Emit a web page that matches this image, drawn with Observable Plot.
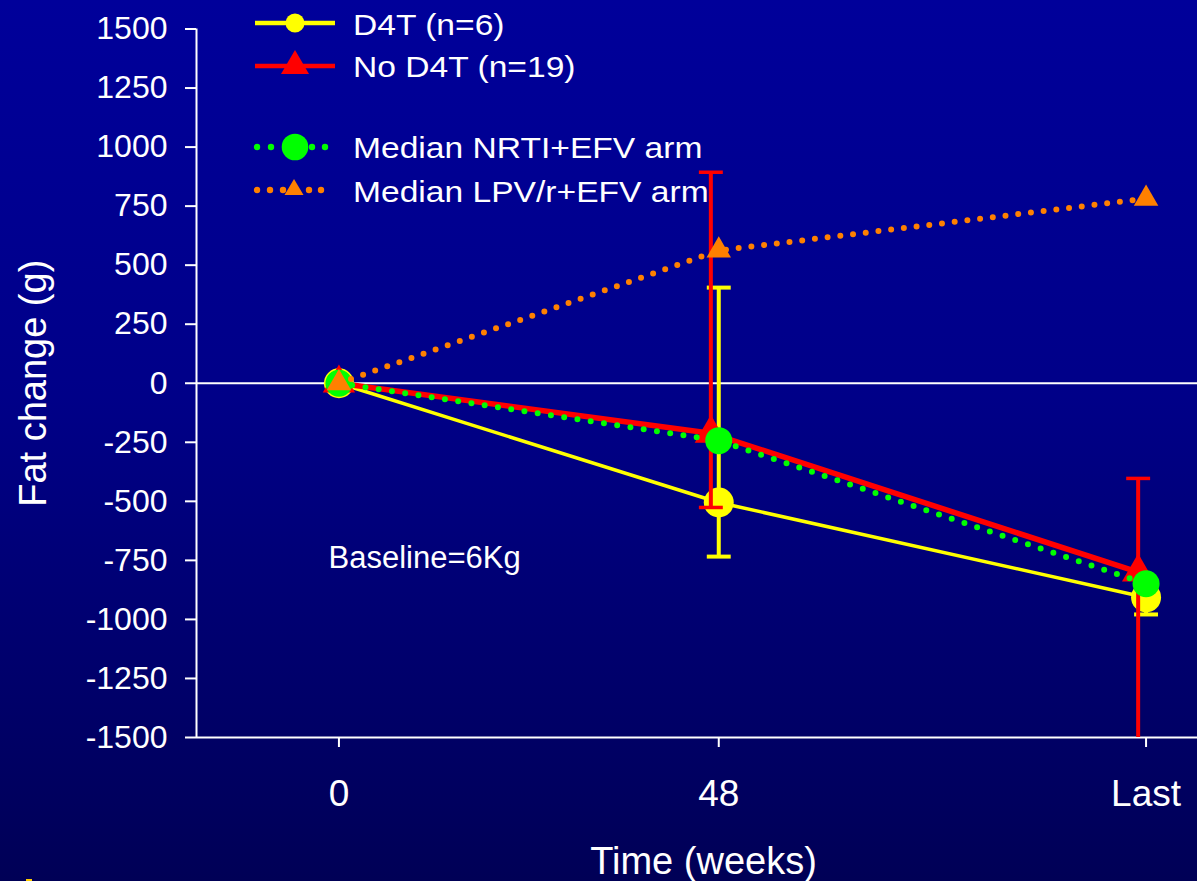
<!DOCTYPE html>
<html>
<head>
<meta charset="utf-8">
<script src="https://cdn.jsdelivr.net/npm/d3@7"></script>
<script src="https://cdn.jsdelivr.net/npm/@observablehq/plot@0.6"></script>
<style>
  html, body { margin: 0; padding: 0; }
  body { width: 1197px; height: 881px; overflow: hidden;
         background: linear-gradient(to bottom, #00009a 0%, #000088 45%, #000056 100%); }
  #wrap { position: relative; width: 1197px; height: 881px; font-family: "Liberation Sans", Arial, sans-serif; }
  #wrap > svg { position: absolute; left: 0; top: 0; }
</style>
</head>
<body>
<div id="wrap"></div>
<script>
// ---- data ----
const xDomain = [-18, 108.5];
const yDomain = [-1500, 1500];
const yTicks = [-1500, -1250, -1000, -750, -500, -250, 0, 250, 500, 750, 1000, 1250, 1500];
const timeValues = [0, 48, 102];
const timeLabels = ["0", "48", "Last"];

const d4tX = [0, 48, 102];
const d4tY = [0, -505, -907];
const d4tLow = [null, -734, -979];
const d4tHigh = [null, 405, -840];

const noD4tX = [0, 47, 101];
const noD4tY = [0, -212, -800];
const noD4tLow = [null, -526, -1700];
const noD4tHigh = [null, 893, -403];

const nrtiX = [0, 48, 102];
const nrtiY = [0, -243, -849];

const lpvX = [0, 48, 102];
const lpvY = [0, 562, 782];

const seriesNames = ["D4T (n=6)", "No D4T (n=19)", "Median NRTI+EFV arm", "Median LPV/r+EFV arm"];

// ---- build tables ----
const rows = (xs, ys) => xs.map((x, i) => ({x, y: ys[i]}));
const errRows = (xs, lo, hi) => xs.map((x, i) => ({x, lo: lo[i], hi: hi[i]})).filter(d => d.lo != null);
const capRows = (xs, lo, hi) => errRows(xs, lo, hi).flatMap(d => [{x: d.x, y: d.lo}, {x: d.x, y: d.hi}]);

const d4t = rows(d4tX, d4tY), noD4t = rows(noD4tX, noD4tY), nrti = rows(nrtiX, nrtiY), lpv = rows(lpvX, lpvY);

const capSymbol = { draw(ctx, size) { const w = Math.sqrt(size); ctx.moveTo(-w / 2, 0); ctx.lineTo(w / 2, 0); } };

const YEL = "#ffff00", RED = "#ff0000", GRN = "#00ff00", ORG = "#ff8000";

const plot = Plot.plot({
  width: 1197, height: 881,
  marginLeft: 196, marginRight: 0, marginTop: 28.5, marginBottom: 144,
  x: {domain: xDomain},
  y: {domain: yDomain},
  style: {background: "transparent", color: "white", fontFamily: "'Liberation Sans', Arial, sans-serif", overflow: "visible"},
  marks: [
    Plot.ruleY([0], {stroke: "white", strokeWidth: 2}),
    Plot.ruleX([xDomain[0]], {stroke: "white", strokeWidth: 2}),
    Plot.ruleY([yDomain[0]], {stroke: "white", strokeWidth: 2}),
    Plot.axisY({ticks: yTicks, tickFormat: d => String(d), tickSize: 11, tickPadding: 18, fontSize: 32, stroke: "white", strokeWidth: 2, label: null}),
    Plot.axisX({ticks: timeValues, tickFormat: d => timeLabels[timeValues.indexOf(d)], tickSize: 10, tickPadding: 32, fontSize: 37, stroke: "white", strokeWidth: 2, label: null}),

    // D4T
    Plot.line(d4t, {x: "x", y: "y", stroke: YEL, strokeWidth: 3.5}),
    Plot.ruleX(errRows(d4tX, d4tLow, d4tHigh), {x: "x", y1: "lo", y2: "hi", stroke: YEL, strokeWidth: 4, clip: true}),
    Plot.dot(capRows(d4tX, d4tLow, d4tHigh), {x: "x", y: "y", symbol: capSymbol, r: 13.5, fill: "none", stroke: YEL, strokeWidth: 4, clip: true}),
    Plot.dot(d4t, {x: "x", y: "y", r: 15, fill: YEL, stroke: "none"}),

    // No D4T
    Plot.line(noD4t, {x: "x", y: "y", stroke: RED, strokeWidth: 5.5}),
    Plot.ruleX(errRows(noD4tX, noD4tLow, noD4tHigh), {x: "x", y1: "lo", y2: "hi", stroke: RED, strokeWidth: 4, clip: true}),
    Plot.dot(capRows(noD4tX, noD4tLow, noD4tHigh), {x: "x", y: "y", symbol: capSymbol, r: 13.5, fill: "none", stroke: RED, strokeWidth: 3.5, clip: true}),
    Plot.dot(noD4t, {x: "x", y: "y", symbol: "triangle", r: 12, fill: RED, stroke: "none"}),

    // Median NRTI+EFV
    Plot.line(nrti, {x: "x", y: "y", stroke: GRN, strokeWidth: 6, strokeDasharray: "0 13.4", strokeLinecap: "round"}),
    Plot.dot(nrti, {x: "x", y: "y", r: 13.5, fill: GRN, stroke: "none"}),

    // Median LPV/r+EFV
    Plot.line(lpv, {x: "x", y: "y", stroke: ORG, strokeWidth: 6, strokeDasharray: "0 12.8", strokeLinecap: "round"}),
    Plot.dot(lpv, {x: "x", y: "y", symbol: "triangle", r: 9.1, fill: ORG, stroke: "none"}),

    // titles / annotation
    Plot.text(["Fat change (g)"], {text: d => d, frameAnchor: "left", rotate: -90, dx: -163, fontSize: 38, fill: "white", textAnchor: "middle", lineAnchor: "middle"}),
    Plot.text(["Time (weeks)"], {text: d => d, frameAnchor: "bottom", dx: 6.5, dy: 124, fontSize: 38, fill: "white", textAnchor: "middle", lineAnchor: "middle"}),
    Plot.text(["Baseline=6Kg"], {text: d => d, frameAnchor: "top-left", dx: 132, dy: 516.5, textAnchor: "start", lineAnchor: "top", fontSize: 31, fill: "white"})
  ]
});
document.getElementById("wrap").appendChild(plot);

// ---- legend overlay ----
const lg = d3.select("#wrap").append("svg").attr("width", 1197).attr("height", 881).style("pointer-events", "none");
const textX = 353, baselines = [35, 77, 158, 202], rowY = [23, 66, 147, 190];
// D4T sample
lg.append("line").attr("x1", 255).attr("x2", 335).attr("y1", rowY[0]).attr("y2", rowY[0]).attr("stroke", YEL).attr("stroke-width", 4.5);
lg.append("circle").attr("cx", 295).attr("cy", rowY[0]).attr("r", 9.5).attr("fill", YEL);
// No D4T sample
lg.append("line").attr("x1", 255).attr("x2", 335).attr("y1", rowY[1]).attr("y2", rowY[1]).attr("stroke", RED).attr("stroke-width", 4.5);
lg.append("path").attr("d", `M295,${rowY[1]-16}L309,${rowY[1]+8}L281,${rowY[1]+8}Z`).attr("fill", RED);
// NRTI sample
[257, 271, 312, 325].forEach(cx => lg.append("circle").attr("cx", cx).attr("cy", rowY[2]).attr("r", 3.2).attr("fill", GRN));
lg.append("circle").attr("cx", 295).attr("cy", rowY[2]).attr("r", 13.3).attr("fill", GRN);
// LPV sample
[257, 270, 283, 309, 321].forEach(cx => lg.append("circle").attr("cx", cx).attr("cy", rowY[3]).attr("r", 3.2).attr("fill", ORG));
lg.append("path").attr("d", `M294,${rowY[3]-11}L303.5,${rowY[3]+5}L284.5,${rowY[3]+5}Z`).attr("fill", ORG);
// labels
seriesNames.forEach((name, i) => {
  lg.append("text").attr("transform", `translate(${textX},${baselines[i]}) scale(1.12,1)`)
    .attr("fill", "white").attr("font-size", 30)
    .attr("font-family", "'Liberation Sans', Arial, sans-serif").text(name);
});
// small mark at bottom-left
lg.append("rect").attr("x", 26).attr("y", 879).attr("width", 6).attr("height", 2).attr("fill", "#ffcc00");
</script>
</body>
</html>
